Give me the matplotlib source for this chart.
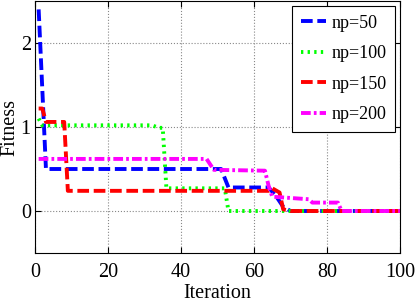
import matplotlib
matplotlib.use("Agg")
import matplotlib.pyplot as plt

plt.rcParams['font.family'] = ['Liberation Serif', 'DejaVu Serif']

labels = ["np=50", "np=100", "np=150", "np=200"]
colors = ["#0000ff", "#00ff00", "#ff0000", "#ff00ff"]

np50_x = [1, 3, 51, 53, 64, 66, 68, 70, 100]
np50_y = [2.4, 0.5, 0.5, 0.28, 0.28, 0.18, 0.05, 0.0, 0.0]

np100_x = [1, 2, 32, 34, 35, 36, 52, 53, 100]
np100_y = [1.1, 1.02, 1.02, 0.99, 0.99, 0.27, 0.27, 0.0, 0.0]

np150_x = [1, 2, 3, 8, 9, 64, 65, 67, 68, 70, 100]
np150_y = [1.22, 1.22, 1.06, 1.06, 0.24, 0.24, 0.27, 0.22, 0.02, 0.0, 0.0]

np200_x = [1, 47, 49, 63, 64, 65, 75, 76, 83, 84, 100]
np200_y = [0.62, 0.62, 0.49, 0.48, 0.3, 0.17, 0.14, 0.1, 0.1, 0.0, 0.0]

fig = plt.figure(figsize=(4.16, 3.03), dpi=100)
ax = fig.add_axes([35 / 416, 50 / 303, 365 / 416, 252 / 303])

styles = [(0, (3, 1.2)), (0, (0.6, 1.1)), (0, (3, 1.2)), (0, (2.5, 0.8, 0.7, 0.8))]
series = [(np50_x, np50_y), (np100_x, np100_y), (np150_x, np150_y), (np200_x, np200_y)]
for (xs, ys), c, ls, lab in zip(series, colors, styles, labels):
    ax.plot(xs, ys, color=c, linestyle=ls, linewidth=2.8, label=lab)

ax.set_xlim(0, 100)
ax.set_ylim(-0.5, 2.5)
ax.set_xticks([0, 20, 40, 60, 80, 100])
ax.set_yticks([0, 1, 2])
ax.tick_params(direction='in', top=True, right=True, labelsize=14.5, length=4)
ax.tick_params(axis='x', pad=7)
ax.tick_params(axis='y', pad=3)
ax.grid(True, linestyle=':', color='#888888', linewidth=0.8)
ax.set_xlabel("Iteration", fontsize=14.5, labelpad=2)
ax.set_ylabel("Fitness", fontsize=14.5, labelpad=1)
for s in ax.spines.values():
    s.set_linewidth(0.8)

leg = ax.legend(loc='upper right', fontsize=13, handlelength=1.4, handletextpad=0.3,
                borderpad=0.5, labelspacing=0.75, fancybox=False, framealpha=1,
                edgecolor='black', borderaxespad=0.25)
leg.get_frame().set_linewidth(0.8)

fig.savefig("out.png", dpi=100)
